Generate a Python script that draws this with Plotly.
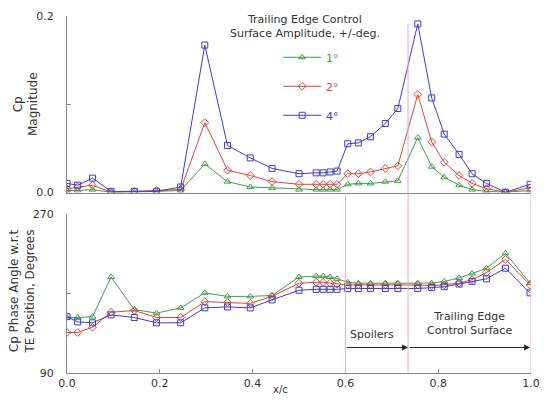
import plotly.graph_objects as go

x_c = [0.0, 0.023, 0.055, 0.095, 0.145, 0.193, 0.245, 0.297, 0.346, 0.395, 0.442, 0.50,
       0.537, 0.552, 0.567, 0.582, 0.605, 0.628, 0.654, 0.686, 0.713, 0.756, 0.786, 0.813,
       0.845, 0.873, 0.904, 0.945, 0.998]

mag_1deg = [0.002, 0.002, 0.003, 0.0, 0.0, 0.001, 0.002, 0.032, 0.012, 0.006, 0.005, 0.003,
            0.003, 0.003, 0.003, 0.003, 0.009, 0.010, 0.010, 0.012, 0.013, 0.062, 0.029, 0.017,
            0.008, 0.003, 0.001, 0.0, 0.002]
mag_2deg = [0.004, 0.006, 0.008, 0.0, 0.001, 0.002, 0.003, 0.079, 0.025, 0.019, 0.012, 0.009,
            0.009, 0.009, 0.009, 0.009, 0.021, 0.021, 0.023, 0.027, 0.030, 0.111, 0.057, 0.034,
            0.019, 0.010, 0.004, 0.0, 0.005]
mag_4deg = [0.010, 0.008, 0.016, 0.001, 0.001, 0.001, 0.006, 0.167, 0.053, 0.039, 0.027, 0.021,
            0.022, 0.022, 0.023, 0.024, 0.055, 0.056, 0.063, 0.078, 0.095, 0.191, 0.107, 0.066,
            0.043, 0.021, 0.010, 0.0, 0.009]

phase_1deg = [153, 153, 154, 199, 162, 158, 164, 181, 177, 177, 178, 199, 200, 200, 199, 197,
              193, 192, 192, 192, 192, 192, 192, 194, 198, 203, 209, 226, 192]
phase_2deg = [136, 136, 142, 159, 161, 153, 153, 171, 170, 169, 177, 192, 193, 193, 192, 191,
              190, 190, 190, 190, 190, 190, 189, 190, 192, 196, 204, 219, 190]
phase_4deg = [154, 148, 147, 156, 153, 147, 147, 164, 165, 164, 173, 184, 185, 185, 185, 185,
              186, 186, 186, 186, 186, 186, 187, 188, 191, 194, 197, 209, 181]

series_names = ["1°", "2°", "4°"]
colors = ["#3f9e4a", "#d8453c", "#3d3dcc"]
symbols = ["triangle-up-open", "diamond-open", "square-open"]
mags = [mag_1deg, mag_2deg, mag_4deg]
phases = [phase_1deg, phase_2deg, phase_4deg]

FONT = "DejaVu Sans, Liberation Sans, Arial, sans-serif"
TXT = "#333333"

fig = go.Figure()
for name, col, sym, m, p in zip(series_names, colors, symbols, mags, phases):
    fig.add_trace(go.Scatter(
        x=x_c, y=m, mode="lines+markers", xaxis="x", yaxis="y",
        name=f"<span style='color:{col}'>{name}</span>",
        line=dict(color=col, width=1),
        marker=dict(symbol=sym, size=6, color=col, line=dict(width=1, color=col)),
        legendgroup=name, showlegend=True))
    fig.add_trace(go.Scatter(
        x=x_c, y=p, mode="lines+markers", xaxis="x2", yaxis="y2",
        line=dict(color=col, width=1),
        marker=dict(symbol=sym, size=6, color=col, line=dict(width=1, color=col)),
        legendgroup=name, showlegend=False))

axis_common = dict(showgrid=False, zeroline=False, showline=True, linecolor="#888888",
                   linewidth=1, tickfont=dict(family=FONT, size=11, color=TXT),
                   tickcolor="#888888")

fig.update_layout(
    width=550, height=400,
    margin=dict(l=67, r=10, t=14, b=26),
    paper_bgcolor="white", plot_bgcolor="white",
    font=dict(family=FONT, size=11, color=TXT),
    xaxis=dict(domain=[0, 1], range=[0, 1], anchor="y", showticklabels=False, ticks="",
               **axis_common),
    yaxis=dict(domain=[0.5056, 1], range=[-0.0003, 0.2], anchor="x", ticks="inside", ticklen=4,
               ticklabelstandoff=10,
               tickvals=[0, 0.1, 0.2], ticktext=["0.0", "", "0.2"], **axis_common),
    xaxis2=dict(domain=[0, 1], range=[0, 1], anchor="y2", ticks="inside", ticklen=4,
                tickvals=[0, 0.2, 0.4, 0.6, 0.8, 1.0],
                ticktext=["0.0", "0.2", "0.4", "0.6", "0.8", "1.0"], **axis_common),
    yaxis2=dict(domain=[0, 0.444], range=[90, 270], anchor="x2", ticks="inside", ticklen=4,
                ticklabelstandoff=10,
                tickvals=[90, 180, 270], ticktext=["90", "", "270"], **axis_common),
    legend=dict(x=0.455, y=0.925, xanchor="left", yanchor="top",
                bgcolor="rgba(0,0,0,0)", itemwidth=38,
                font=dict(family=FONT, size=11, color=TXT)),
    showlegend=True,
)

# legend heading
fig.add_annotation(x=(310 - 67) / 473, y=(374 - 25) / 360, xref="paper", yref="paper",
                   xanchor="center", yanchor="middle", showarrow=False,
                   text="Trailing Edge Control<br>Surface Amplitude, +/-deg.",
                   font=dict(family=FONT, size=11, color=TXT))

# vertical reference lines (pink)
for xv, ytop in [(0.6, (374 - 195) / 360), (0.735, (374 - 22) / 360), (1.0, (374 - 195) / 360)]:
    fig.add_shape(type="line", xref="x2", yref="paper", x0=xv, x1=xv, y0=0, y1=ytop,
                  line=dict(color="#e8a8d8", width=1))

# arrows for regions
for x0, x1 in [(0.6, 0.735), (0.735, 0.998)]:
    fig.add_annotation(x=x1, y=119, ax=x0, ay=119, xref="x2", yref="y2", axref="x2", ayref="y2",
                       showarrow=True, arrowhead=2, arrowsize=1.2, arrowwidth=1,
                       arrowcolor="#222222", text="")

fig.add_annotation(x=0.657, y=134, xref="x2", yref="y2", text="Spoilers", showarrow=False,
                   font=dict(family=FONT, size=11, color=TXT))
fig.add_annotation(x=0.867, y=146, xref="x2", yref="y2",
                   text="Trailing Edge<br>Control Surface", showarrow=False,
                   font=dict(family=FONT, size=11, color=TXT))

# axis titles
fig.add_annotation(x=(25 - 67) / 473, y=(374 - 103) / 360, xref="paper", yref="paper",
                   xanchor="center", yanchor="middle",
                   text="Cp<br>Magnitude", textangle=-90, showarrow=False,
                   font=dict(family=FONT, size=12, color=TXT))
fig.add_annotation(x=(21 - 67) / 473, y=(374 - 292) / 360, xref="paper", yref="paper",
                   xanchor="center", yanchor="middle",
                   text="Cp Phase Angle w.r.t<br>TE Position, Degrees", textangle=-90,
                   showarrow=False, font=dict(family=FONT, size=12, color=TXT))
fig.add_annotation(x=0.46, y=(374 - 391) / 360, xref="x2", yref="paper", text="x/c",
                   xanchor="center", yanchor="middle", showarrow=False,
                   font=dict(family=FONT, size=10, color=TXT))

fig.write_html("out.html")
